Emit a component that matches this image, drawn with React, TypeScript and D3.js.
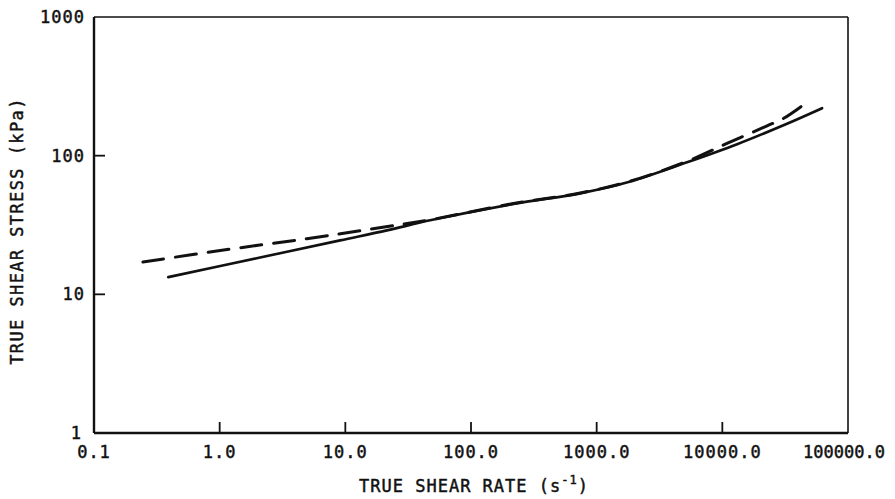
import React from 'react';
import * as d3 from 'd3';

const solidRate = [0.39, 1.97, 9.09, 21.4, 47.3, 218, 740, 1795, 5236, 13100, 32700, 62200];
const solidStress = [13.3, 18.2, 24.5, 28.9, 34.2, 44.9, 53.5, 64.5, 89.5, 121, 170, 220];
const dashRate = [0.245, 1.01, 4.94, 16.6, 47.3, 218, 740, 1795, 5236, 11000, 22700, 30800, 50200];
const dashStress = [17.1, 20.7, 25.2, 29.7, 34.5, 45.2, 53.8, 65.0, 91, 123, 164, 186, 253];

const xTicks = [0.1, 1, 10, 100, 1000, 10000, 100000];
const xTickLabels = ['0.1', '1.0', '10.0', '100.0', '1000.0', '10000.0', '100000.0'];
const yTicks = [1, 10, 100, 1000];
const yTickLabels = ['1', '10', '100', '1000'];

const W = 895, H = 499;
const left = 94, right = 848, top = 17, bottom = 433;
const font = '"DejaVu Sans Mono", monospace';
const ink = '#111';

const App: React.FC = () => {
  const x = d3.scaleLog().domain([0.1, 100000]).range([left, right]);
  const y = d3.scaleLog().domain([1, 1000]).range([bottom, top]);

  const line = d3.line<[number, number]>()
    .x(d => x(d[0]))
    .y(d => y(d[1]))
    .curve(d3.curveCatmullRom.alpha(0.5));

  const solid = line(solidRate.map((r, i) => [r, solidStress[i]]));
  const dashed = line(dashRate.map((r, i) => [r, dashStress[i]]));

  const textProps = { fontFamily: font, fontSize: 17, fill: ink, stroke: ink, strokeWidth: 0.45 };

  return (
    <svg width={W} height={H} style={{ position: 'absolute', left: 0, top: 0, background: '#fff' }}>
      {/* frame */}
      <line x1={left} y1={top} x2={right} y2={top} stroke={ink} strokeWidth={1.6} />
      <line x1={right} y1={top} x2={right} y2={bottom} stroke={ink} strokeWidth={1.6} />
      <line x1={left} y1={top} x2={left} y2={bottom} stroke={ink} strokeWidth={2.4} />
      <line x1={left} y1={bottom} x2={right} y2={bottom} stroke={ink} strokeWidth={2.4} />

      {/* inner ticks */}
      {xTicks.slice(1, -1).map(t => (
        <line key={'xt' + t} x1={x(t)} x2={x(t)} y1={bottom} y2={bottom - 11} stroke={ink} strokeWidth={1.8} />
      ))}
      {yTicks.slice(1, -1).map(t => (
        <line key={'yt' + t} x1={left} x2={left + 11} y1={y(t)} y2={y(t)} stroke={ink} strokeWidth={1.8} />
      ))}

      {/* tick labels */}
      {xTicks.map((t, i) => (
        <text key={'xl' + t} x={x(t) - (i === xTicks.length - 1 ? 4 : 0)} y={458} textAnchor="middle"
          letterSpacing={i === xTicks.length - 1 ? 0 : 1} {...textProps}>
          {xTickLabels[i]}
        </text>
      ))}
      {yTicks.map((t, i) => (
        <text key={'yl' + t} x={t === 1 ? 82 : 85} y={y(t)} dy="0.36em" textAnchor="end"
          letterSpacing={1} {...textProps}>
          {yTickLabels[i]}
        </text>
      ))}

      {/* axis titles */}
      <text x={474} y={492} textAnchor="middle" letterSpacing={1} {...textProps}>
        TRUE SHEAR RATE (s<tspan fontSize={12} dy={-8}>-1</tspan><tspan dy={8}>)</tspan>
      </text>
      <text transform="translate(23,231) rotate(-90)" textAnchor="middle" letterSpacing={1.4} {...textProps}>
        TRUE SHEAR STRESS (kPa)
      </text>

      {/* curves */}
      <path d={solid ?? ''} fill="none" stroke={ink} strokeWidth={2.7} strokeLinecap="round" />
      <path d={dashed ?? ''} fill="none" stroke={ink} strokeWidth={3} strokeDasharray="21 12" strokeLinecap="round" />
    </svg>
  );
};

export default App;
